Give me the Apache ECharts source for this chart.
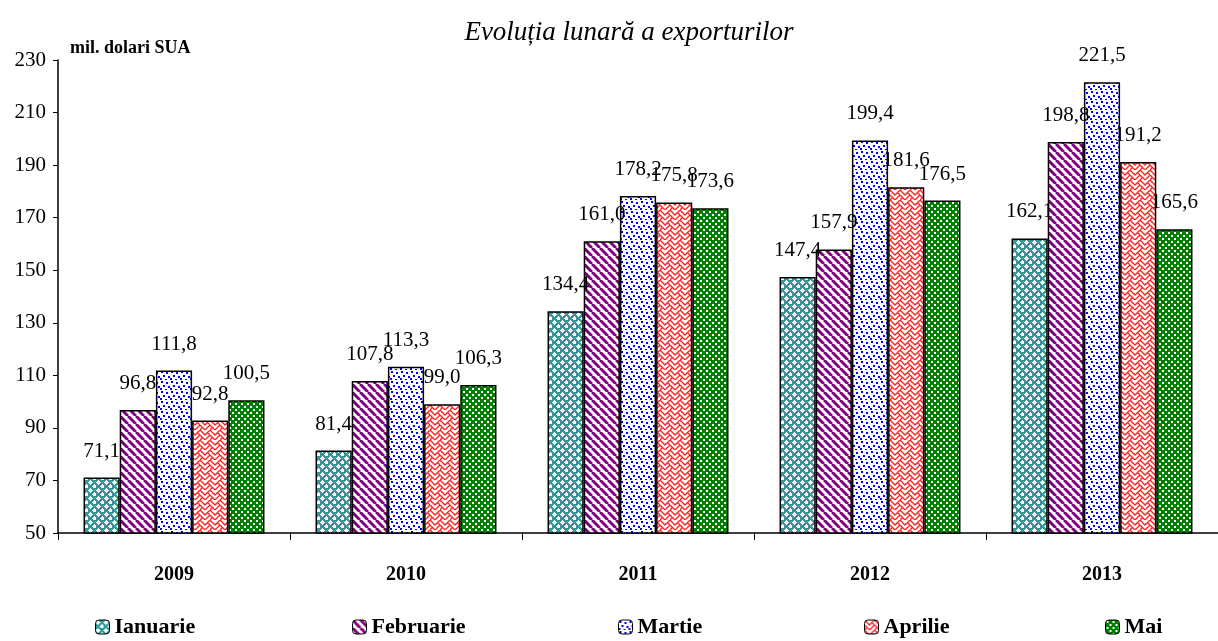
<!DOCTYPE html>
<html>
<head>
<meta charset="utf-8">
<script src="https://cdn.jsdelivr.net/npm/echarts@6/dist/echarts.min.js"></script>
<style>
html,body{margin:0;padding:0;background:#fff;}
#chart{width:1218px;height:641px;}
</style>
</head>
<body>
<div id="chart"></div>
<script>
const categories = ['2009', '2010', '2011', '2012', '2013'];
const seriesNames = ['Ianuarie', 'Februarie', 'Martie', 'Aprilie', 'Mai'];
const ianuarie = [71.1, 81.4, 134.4, 147.4, 162.1];
const februarie = [96.8, 107.8, 161.0, 157.9, 198.8];
const martie = [111.8, 113.3, 178.2, 199.4, 221.5];
const aprilie = [92.8, 99.0, 175.8, 181.6, 191.2];
const mai = [100.5, 106.3, 173.6, 176.5, 165.6];
const yTicks = { min: 50, max: 230, interval: 20 };

function tile(w, h, draw) {
  const c = document.createElement('canvas');
  c.width = w; c.height = h;
  const g = c.getContext('2d');
  g.fillStyle = '#fff'; g.fillRect(0, 0, w, h);
  draw(g);
  return { image: c, repeat: 'repeat' };
}
// Ianuarie: teal lattice with white diamonds
const patIan = tile(8, 8, g => {
  g.fillStyle = '#2f9a9a'; g.fillRect(0, 0, 8, 8);
  g.fillStyle = '#fff';
  [[2, 2], [6, 6]].forEach(([x, y]) => {
    g.fillRect(x - 1, y - 1, 3, 3);
    g.fillRect(x - 2, y, 5, 1);
    g.fillRect(x, y - 2, 1, 5);
  });
});
// Februarie: purple diagonal stripes
const patFeb = tile(8, 8, g => {
  g.strokeStyle = '#800080'; g.lineWidth = 3;
  for (let k = -8; k <= 8; k += 8) {
    g.beginPath(); g.moveTo(k, 0); g.lineTo(k + 8, 8); g.stroke();
  }
});
// Martie: blue dots on white
const patMar = tile(10, 10, g => {
  g.fillStyle = '#0000ff';
  [[1, 1], [6, 2], [3, 5], [8, 6], [0, 8], [5, 9]].forEach(([x, y]) => g.fillRect(x, y, 2, 2));
});
// Aprilie: red weave on white
const patApr = tile(10, 10, g => {
  g.strokeStyle = '#ff2020'; g.lineWidth = 1.3;
  g.beginPath();
  g.moveTo(0, 0); g.lineTo(5, 5); g.lineTo(10, 0);
  g.moveTo(0, 5); g.lineTo(5, 10); g.lineTo(10, 5);
  g.moveTo(2.5, 7.5); g.lineTo(0, 10);
  g.moveTo(7.5, 2.5); g.lineTo(10, 5);
  g.stroke();
});
// Mai: green with white squares
const patMai = tile(6, 6, g => {
  g.fillStyle = '#008000'; g.fillRect(0, 0, 6, 6);
  g.fillStyle = '#fff';
  g.fillRect(1, 1, 2, 2); g.fillRect(4, 4, 2, 2);
});

const patterns = [patIan, patFeb, patMar, patApr, patMai];
const dataSets = [ianuarie, februarie, martie, aprilie, mai];
const legendLeft = [90, 347, 613, 859, 1100];

const fmt = v => v.toFixed(1).replace('.', ',');

const chart = echarts.init(document.getElementById('chart'));
chart.setOption({
  animation: false,
  backgroundColor: '#fff',
  title: {
    text: 'Evoluția lunară a exporturilor',
    left: 624, top: 14, textAlign: 'center',
    textStyle: { fontFamily: 'Liberation Serif', fontStyle: 'italic', fontWeight: 'normal', fontSize: 27, color: '#000' }
  },
  graphic: [{
    type: 'text', left: 70, top: 39,
    style: { text: 'mil. dolari SUA', font: 'bold 18px "Liberation Serif"', fill: '#000' }
  }],
  legend: seriesNames.map((n, i) => ({
    data: [n], left: legendLeft[i], top: 611,
    itemWidth: 14, itemHeight: 14, itemGap: 4,
    textStyle: { fontFamily: 'Liberation Serif', fontWeight: 'bold', fontSize: 22, color: '#000' },
    itemStyle: { borderColor: '#000', borderWidth: 1 }
  })),
  grid: { left: 58, top: 60, width: 1161, bottom: 108, containLabel: false },
  xAxis: {
    type: 'category', data: categories,
    axisLine: { lineStyle: { color: '#000', width: 1.5 } },
    axisTick: { show: true, length: 7, lineStyle: { color: '#000' } },
    axisLabel: { margin: 32, fontFamily: 'Liberation Serif', fontWeight: 'bold', fontSize: 20, color: '#000' }
  },
  yAxis: {
    type: 'value', min: yTicks.min, max: yTicks.max, interval: yTicks.interval,
    splitLine: { show: false },
    axisLine: { show: true, lineStyle: { color: '#000', width: 1.5 } },
    axisTick: { show: true, length: 5, lineStyle: { color: '#000' } },
    axisLabel: { margin: 12, fontFamily: 'Liberation Serif', fontSize: 21, color: '#000' }
  },
  series: seriesNames.map((n, i) => ({
    name: n, type: 'bar', data: dataSets[i],
    barGap: '0%', barCategoryGap: '22%',
    itemStyle: { color: patterns[i], borderColor: '#000', borderWidth: 1.5 },
    label: {
      show: true, position: 'top', distance: 16,
      formatter: p => fmt(p.value),
      fontFamily: 'Liberation Serif', fontSize: 21, color: '#000'
    }
  }))
});
</script>
</body>
</html>
